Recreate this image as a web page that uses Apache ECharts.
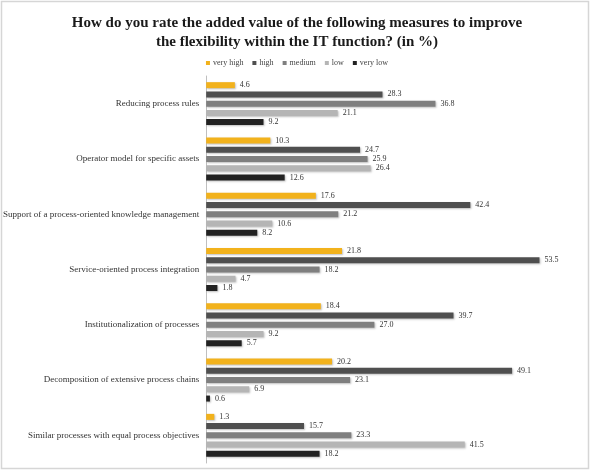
<!DOCTYPE html>
<html><head><meta charset="utf-8">
<script src="https://cdn.jsdelivr.net/npm/echarts@6/dist/echarts.min.js"></script>
<style>html,body{margin:0;padding:0;background:#fff}#c{width:594px;height:471px}</style>
</head><body><div id="c"></div>
<script>
const categories = [
  "Reducing process rules",
  "Operator model for specific assets",
  "Support of a process-oriented knowledge management",
  "Service-oriented process integration",
  "Institutionalization of processes",
  "Decomposition of extensive process chains",
  "Similar processes with equal process objectives"
];
const seriesNames = ["very high", "high", "medium", "low", "very low"];
const veryHigh = [4.6, 10.3, 17.6, 21.8, 18.4, 20.2, 1.3];
const high     = [28.3, 24.7, 42.4, 53.5, 39.7, 49.1, 15.7];
const medium   = [36.8, 25.9, 21.2, 18.2, 27.0, 23.1, 23.3];
const low      = [21.1, 26.4, 10.6, 4.7, 9.2, 6.9, 41.5];
const veryLow  = [9.2, 12.6, 8.2, 1.8, 5.7, 0.6, 18.2];
const colors = ["#F2B21C", "#4f4f4f", "#7f7f7f", "#b5b5b5", "#222222"];
const values = [veryHigh, high, medium, low, veryLow];

const FONT = "Liberation Serif";
const chart = echarts.init(document.getElementById('c'));
chart.setOption({
  animation: false,
  color: colors,
  title: {
    text: "How do you rate the added value of the following measures to improve\nthe flexibility within the IT function? (in %)",
    left: 'center', top: 9,
    textStyle: {fontFamily: FONT, fontWeight: 'bold', fontSize: 15, lineHeight: 19, color: '#1a1a1a'}
  },
  legend: {
    data: seriesNames, top: 54, left: 'center',
    itemWidth: 4, itemHeight: 4, itemGap: 9, icon: 'rect',
    textStyle: {fontFamily: FONT, fontSize: 8, color: '#444', padding: [0,0,0,-2]}
  },
  graphic: [{type: 'rect', shape: {x: 1.5, y: 1.5, width: 587, height: 467}, style: {fill: null, stroke: '#d6d6d6', lineWidth: 1.5}, silent: true}],
  grid: {left: 203, top: 76, width: 377, height: 387, containLabel: false},
  xAxis: {type: 'value', min: 0, max: 60, show: false},
  yAxis: {
    type: 'category', data: categories, inverse: true,
    axisLine: {lineStyle: {color: '#bfbfbf'}}, axisTick: {show: false},
    axisLabel: {fontFamily: FONT, fontSize: 9, color: '#333', margin: 7}
  },
  series: seriesNames.map((n, i) => ({
    name: n, type: 'bar', data: values[i],
    barWidth: 6, barGap: '54%',
    itemStyle: {color: colors[i], shadowColor: 'rgba(0,0,0,0.25)', shadowBlur: 2, shadowOffsetX: 1, shadowOffsetY: 1},
    label: {show: true, position: 'right', distance: 5, fontFamily: FONT, fontSize: 8, color: '#333',
      formatter: p => p.value.toFixed(1)}
  }))
});
</script></body></html>
